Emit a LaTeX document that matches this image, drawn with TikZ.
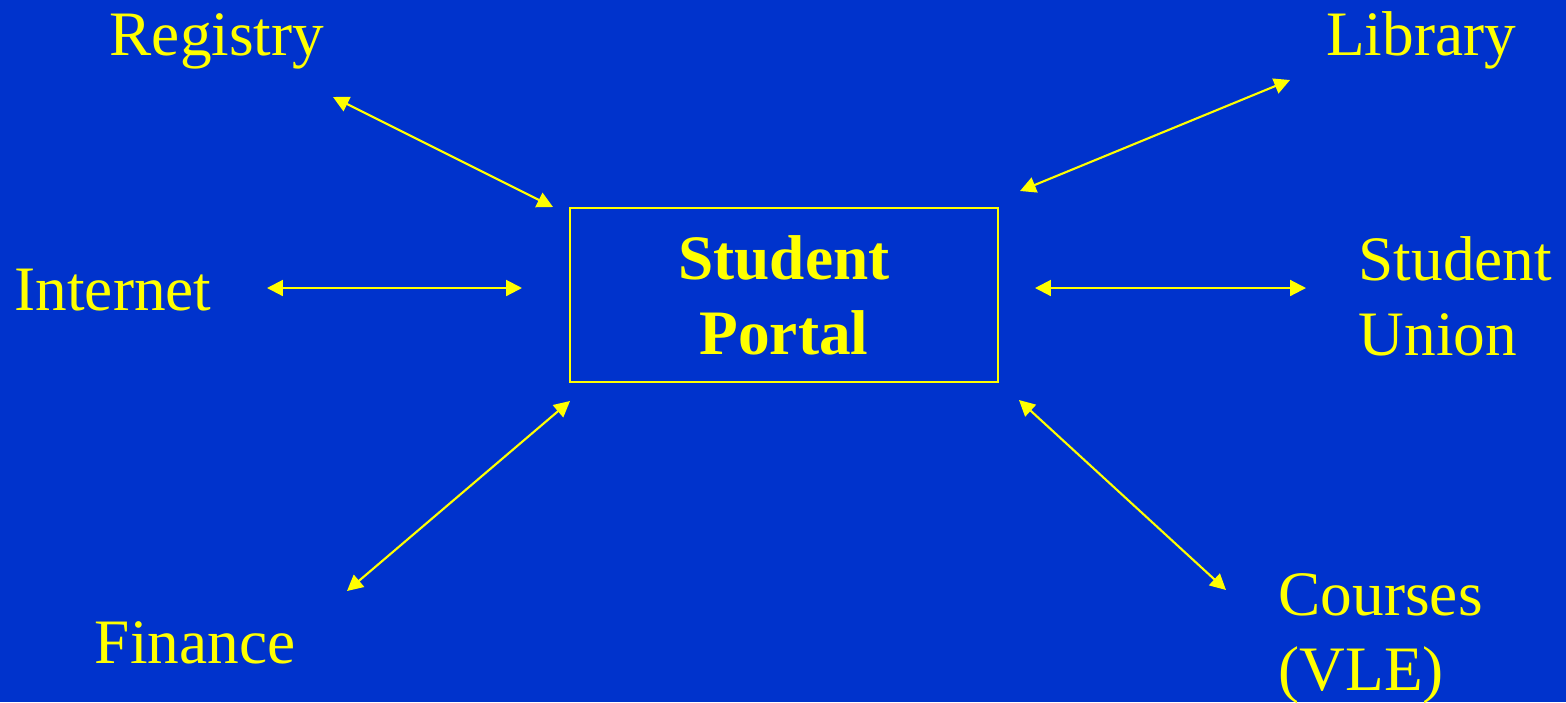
\documentclass[tikz,border=0pt]{standalone}
\usepackage{fontspec}
\setmainfont{Liberation Serif}
\usepackage{tikz}
\usetikzlibrary{arrows.meta}
\definecolor{slideblue}{RGB}{0,51,204}
\definecolor{slideyellow}{RGB}{255,255,0}

\begin{document}
\begin{tikzpicture}[x=0.01cm,y=-0.01cm,
   every node/.style={text=slideyellow,font=\fontsize{18}{21.3}\selectfont,inner sep=0pt},
   link/.style={draw=slideyellow,line width=0.6pt,{Triangle[length=4.5pt,width=4.5pt]}-{Triangle[length=4.5pt,width=4.5pt]}}]
   \fill[slideblue] (0,0) rectangle (1566,702);
   \useasboundingbox (0,0) rectangle (1566,702);

   \draw (784,295) node[draw=slideyellow,line width=0.6pt,minimum width=4.28cm,minimum height=1.74cm,align=center,font=\fontsize{18}{21.3}\selectfont\bfseries] (portal) {Student\\Portal};
   \draw (217,55) node[anchor=base] (registry) {Registry};
   \draw (1421,55) node[anchor=base] (library) {Library};
   \draw (113,310) node[anchor=base] (internet) {Internet};
   \draw (1358,355) node[anchor=base west,align=left] (union) {Student\\Union};
   \draw (195,663) node[anchor=base] (finance) {Finance};
   \draw (1278,690) node[anchor=base west,align=left] (courses) {Courses\\(VLE)};

   % arrow ends
   \coordinate (registry-in) at (333,97);   \coordinate (registry-out) at (553,207);
   \coordinate (library-in) at (1290,80);   \coordinate (library-out) at (1020,191);
   \coordinate (internet-in) at (267,288);  \coordinate (internet-out) at (522,288);
   \coordinate (union-in) at (1306,288);    \coordinate (union-out) at (1035,288);
   \coordinate (finance-in) at (347,591);   \coordinate (finance-out) at (570,401);
   \coordinate (courses-in) at (1226,590);  \coordinate (courses-out) at (1019,400);

      \draw[link] (registry-in) -- (registry-out);
      \draw[link] (library-in) -- (library-out);
      \draw[link] (internet-in) -- (internet-out);
      \draw[link] (union-in) -- (union-out);
      \draw[link] (finance-in) -- (finance-out);
      \draw[link] (courses-in) -- (courses-out);
\end{tikzpicture}
\end{document}
